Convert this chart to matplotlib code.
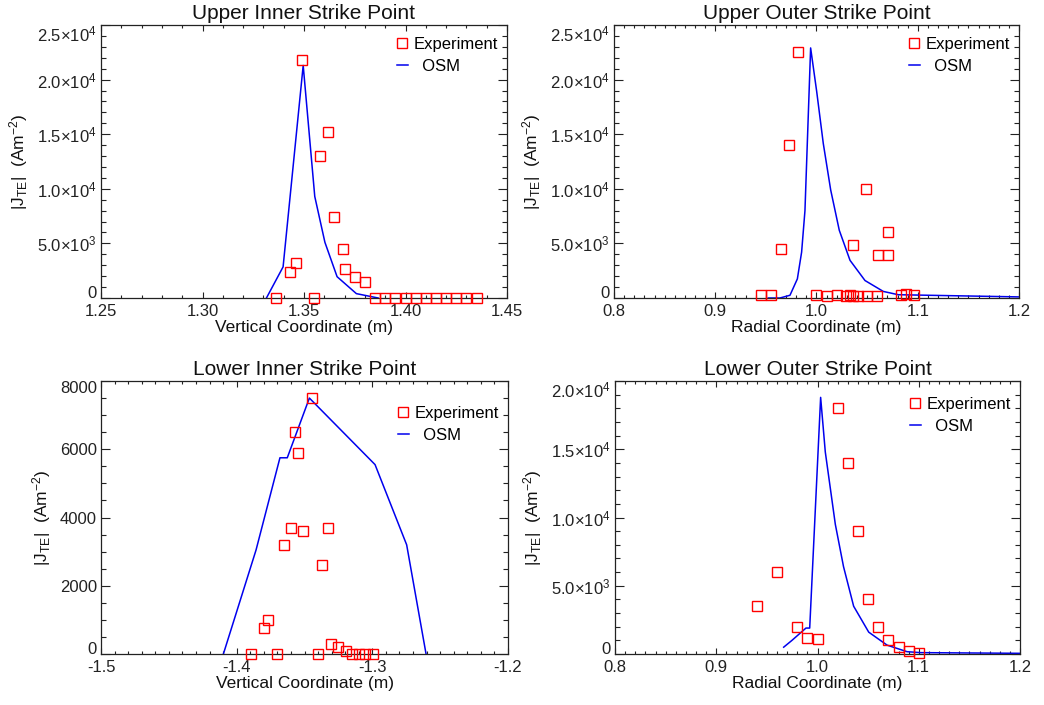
import numpy as np
import matplotlib
matplotlib.use('Agg')
import matplotlib.pyplot as plt
from matplotlib.ticker import MultipleLocator, FuncFormatter

plt.rcParams['font.family'] = ['Liberation Sans', 'DejaVu Sans']
plt.rcParams['mathtext.default'] = 'regular'
plt.rcParams['axes.unicode_minus'] = False

# Upper inner strike point
uis_exp_x = [1.336, 1.343, 1.346, 1.349, 1.355, 1.358, 1.362, 1.365, 1.369, 1.370, 1.375, 1.380,
             1.385, 1.390, 1.395, 1.400, 1.405, 1.410, 1.415, 1.420, 1.425, 1.430, 1.435]
uis_exp_y = [0, 2350, 3250, 21800, 0, 13000, 15200, 7400, 4500, 2700, 1950, 1450,
             0, 0, 0, 0, 0, 0, 0, 0, 0, 0, 0]
uis_osm_x = [1.3315, 1.3397, 1.3496, 1.3553, 1.3603, 1.3663, 1.3758, 1.3865]
uis_osm_y = [0, 2850, 21300, 9300, 5100, 1950, 400, 0]

# Upper outer strike point
uos_exp_x = [0.945, 0.955, 0.9646, 0.9725, 0.9815, 1.000, 1.010, 1.020, 1.029, 1.033, 1.0365, 1.036,
             1.041, 1.0485, 1.050, 1.060, 1.061, 1.0705, 1.0705, 1.083, 1.088, 1.096]
uos_exp_y = [250, 250, 4500, 14000, 22500, 250, 150, 300, 200, 250, 4850, 150,
             150, 10000, 150, 150, 3950, 3950, 6000, 250, 400, 250]
uos_osm_x = [0.9524, 0.9639, 0.9738, 0.9811, 0.9853, 0.9886, 0.9942, 1.0002, 1.0067, 1.0140,
             1.0225, 1.0331, 1.0479, 1.0660, 1.0808, 1.2]
uos_osm_y = [0, 0, 250, 1750, 4200, 8000, 22900, 18900, 14150, 9900,
             6200, 3450, 1600, 600, 300, 100]

# Lower inner strike point
lis_exp_x = [-1.3897, -1.3798, -1.3769, -1.3705, -1.3649, -1.3600, -1.3570, -1.3545, -1.3509, -1.3447,
             -1.3398, -1.3371, -1.3329, -1.3302, -1.3250, -1.3197, -1.3150, -1.3100, -1.3052, -1.2998]
lis_exp_y = [0, 750, 1000, 0, 3200, 3700, 6500, 5900, 3600, 7500,
             0, 2600, 3700, 300, 200, 100, 0, 0, 0, 0]
lis_osm_x = [-1.4098, -1.3857, -1.3681, -1.3627, -1.3464, -1.2980, -1.2747, -1.2604]
lis_osm_y = [0, 3050, 5750, 5750, 7500, 5550, 3200, 0]

# Lower outer strike point
los_exp_x = [0.94, 0.96, 0.98, 0.99, 1.00, 1.02, 1.03, 1.04, 1.05, 1.06, 1.07, 1.08, 1.09, 1.10]
los_exp_y = [3500, 6000, 2000, 1200, 1100, 18000, 14000, 9000, 4000, 2000, 1000, 500, 200, 80]
los_osm_x = [0.9666, 0.9748, 0.9886, 0.9923, 1.0031, 1.0077, 1.0176, 1.0257, 1.0357, 1.0506,
             1.0687, 1.0884, 1.1016, 1.2]
los_osm_y = [500, 1000, 1900, 1900, 18800, 14800, 9500, 6400, 3500, 1600,
             650, 170, 100, 50]


def sci(v, pos):
    if v == 0:
        return '0'
    e = int(np.floor(np.log10(abs(v))))
    return r'$%.1f{\times}10^{%d}$' % (v / 10**e, e)


def plain(v, pos):
    return '%d' % v


fig = plt.figure(figsize=(10.44, 7.05), dpi=100)

panels = [
    ([101/1044, 407/705, 406/1044, 273/705], uis_exp_x, uis_exp_y, uis_osm_x, uis_osm_y,
     'Upper Inner Strike Point', 'Vertical Coordinate (m)', (1.25, 1.45), 0.05, 0.01, '%.2f',
     (0, 25000), 5000, 1000, sci, 1 - 3/273),
    ([614/1044, 407/705, 405/1044, 273/705], uos_exp_x, uos_exp_y, uos_osm_x, uos_osm_y,
     'Upper Outer Strike Point', 'Radial Coordinate (m)', (0.8, 1.2), 0.1, 0.01, '%.1f',
     (0, 25000), 5000, 1000, sci, 1 - 3/273),
    ([101/1044, 51/705, 407/1044, 273/705], lis_exp_x, lis_exp_y, lis_osm_x, lis_osm_y,
     'Lower Inner Strike Point', 'Vertical Coordinate (m)', (-1.5, -1.2), 0.1, 0.01, '%.1f',
     (0, 8000), 2000, 500, plain, 1 - 16/273),
    ([615/1044, 51/705, 405/1044, 273/705], los_exp_x, los_exp_y, los_osm_x, los_osm_y,
     'Lower Outer Strike Point', 'Radial Coordinate (m)', (0.8, 1.2), 0.1, 0.01, '%.1f',
     (0, 20000), 5000, 1000, sci, 1 - 7/273),
]

for (pos, ex, ey, ox, oy, title, xlab, xlim, xmaj, xmin, xfmt,
     ylim, ymaj, ymin, yfmt, leg_y) in panels:
    ax = fig.add_axes(pos)
    ax.plot(ex, ey, 's', mfc='none', mec='red', ms=6.5, mew=1.0, label='Experiment',
            clip_on=False, zorder=3)
    ax.plot(ox, oy, '-', color='#0000ee', lw=1.1, label='  OSM', zorder=2)
    ax.set_yticks(np.arange(ylim[0], ylim[1] + ymaj / 2, ymaj))
    ax.xaxis.set_major_locator(MultipleLocator(xmaj))
    ax.xaxis.set_minor_locator(MultipleLocator(xmin))
    ax.yaxis.set_minor_locator(MultipleLocator(ymin))
    ax.set_xlim(*xlim)
    ax.set_ylim(*ylim)
    ax.xaxis.set_major_formatter(FuncFormatter(lambda v, p, f=xfmt: f % v))
    ax.yaxis.set_major_formatter(FuncFormatter(yfmt))
    ax.tick_params(axis='both', which='both', direction='in', top=True, right=True,
                   labelsize=12, width=0.8, colors='#222222')
    ax.tick_params(axis='x', which='major', length=4.3, pad=4.5)
    ax.tick_params(axis='x', which='minor', length=2.2)
    ax.tick_params(axis='y', which='major', length=6.5, pad=3)
    ax.tick_params(axis='y', which='minor', length=3.4)
    for s in ax.spines.values():
        s.set_linewidth(0.9)
        s.set_color('#222222')
    ax.set_title(title, fontsize=15, pad=4, color='#111111')
    ax.set_xlabel(xlab, fontsize=12.5, color='#111111')
    ax.xaxis.set_label_coords(0.5, -0.08)
    ax.set_ylabel(r'$|J_{TE}|$  (Am$^{-2}$)', fontsize=12.5, labelpad=5, color='#111111')
    ax.legend(loc='upper right', bbox_to_anchor=(1.0, leg_y), frameon=False, fontsize=12,
              handlelength=0.65, handletextpad=0.35, labelspacing=0.4, borderpad=0.2,
              borderaxespad=0.35, numpoints=1)
    fig.canvas.draw()
    yt = ax.yaxis.get_major_ticks()
    yt[0].label1.set_verticalalignment('baseline')
    yt[-1].label1.set_verticalalignment('top')

fig.savefig('out.png', dpi=100)
plt.close()
